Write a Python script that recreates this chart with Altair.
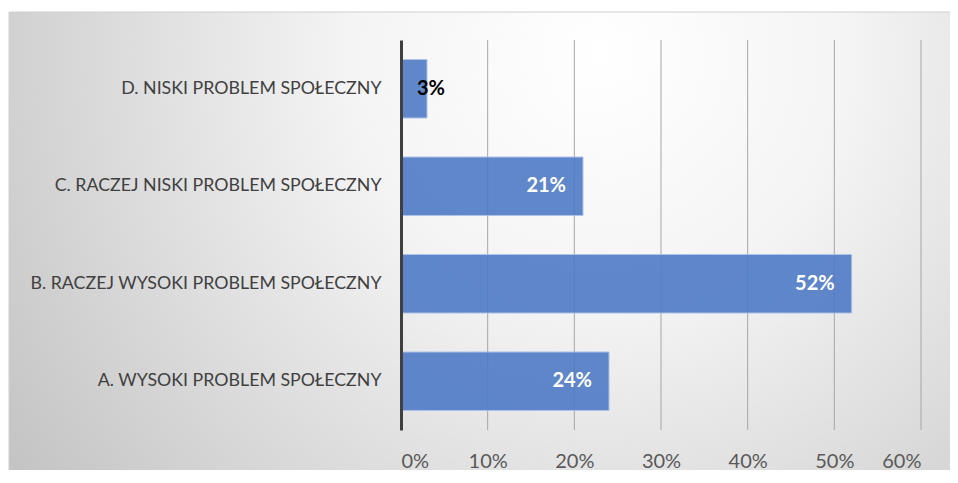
import altair as alt
import pandas as pd

categories = [
    "D. NISKI PROBLEM SPOŁECZNY",
    "C. RACZEJ NISKI PROBLEM SPOŁECZNY",
    "B. RACZEJ WYSOKI PROBLEM SPOŁECZNY",
    "A. WYSOKI PROBLEM SPOŁECZNY",
]
values = [0.03, 0.21, 0.52, 0.24]
x_ticks = [0, 0.1, 0.2, 0.3, 0.4, 0.5, 0.6]

df = pd.DataFrame({"cat": categories, "val": values})
df["lab"] = [f"{round(v*100)}%" for v in values]
ticks_df = pd.DataFrame({"t": x_ticks[1:]})

FONT = "Lato"

bg = alt.Chart(pd.DataFrame({"d": [0]})).mark_rect(
    color=alt.Gradient(
        gradient="radial",
        x1=0.62, y1=0.3, r1=0.0,
        x2=0.62, y2=0.3, r2=0.75,
        stops=[
            alt.GradientStop(color="#ffffff", offset=0),
            alt.GradientStop(color="#f4f4f4", offset=0.35),
            alt.GradientStop(color="#c4c4c4", offset=1),
        ],
    ),
    stroke="#cfcfcf",
    strokeWidth=1,
).encode(
    x=alt.value(-392), x2=alt.value(560),
    y=alt.value(-28), y2=alt.value(440),
)

ysc = alt.Scale(domain=categories, paddingInner=0.4, paddingOuter=0.2)
xsc = alt.Scale(domain=[0, 0.6], nice=False)

grid = alt.Chart(ticks_df).mark_rule(color="#a6a6a6", strokeWidth=1).encode(
    x=alt.X("t:Q", scale=xsc), y=alt.value(0), y2=alt.value(390),
)

bars = alt.Chart(df).mark_bar(
    color="#4f7bc6", stroke="#a8bde6", strokeWidth=1, opacity=0.9
).encode(
    x=alt.X("val:Q", scale=xsc, axis=alt.Axis(
        values=x_ticks, format=".0%", title=None, domain=False, ticks=False,
        grid=False, zindex=1,
        labelFontSize=20, labelColor="#595959", labelFont=FONT, labelPadding=21,
    )),
    y=alt.Y("cat:N", scale=ysc, sort=categories, axis=alt.Axis(
        title=None, ticks=False, domain=True, domainColor="#404040", domainWidth=3,
        labelFontSize=17.8, labelColor="#404040", labelFont=FONT, labelPadding=20,
        labelLimit=400, zindex=1,
    )),
)

txt_in = alt.Chart(df).transform_filter("datum.val >= 0.1").mark_text(
    align="right", baseline="middle", dx=-17, font=FONT, fontSize=20,
    fontWeight="bold", color="white",
).encode(
    x=alt.X("val:Q", scale=xsc), y=alt.Y("cat:N", scale=ysc, sort=categories),
    text="lab:N",
)

txt_out = alt.Chart(df).transform_filter("datum.val < 0.1").mark_text(
    align="left", baseline="middle", dx=16, font=FONT, fontSize=20,
    fontWeight="bold", color="black",
).encode(
    x=alt.value(0), y=alt.Y("cat:N", scale=ysc, sort=categories),
    text="lab:N",
)

chart = alt.layer(bg, grid, bars, txt_in, txt_out).properties(
    width=520, height=390,
    autosize=alt.AutoSizeParams(type="none"),
    padding={"left": 393, "top": 32, "right": 29, "bottom": 40},
).configure_view(stroke=None).configure(background="white")

chart.save("out.html", embed_options={"renderer": "svg", "actions": False})
